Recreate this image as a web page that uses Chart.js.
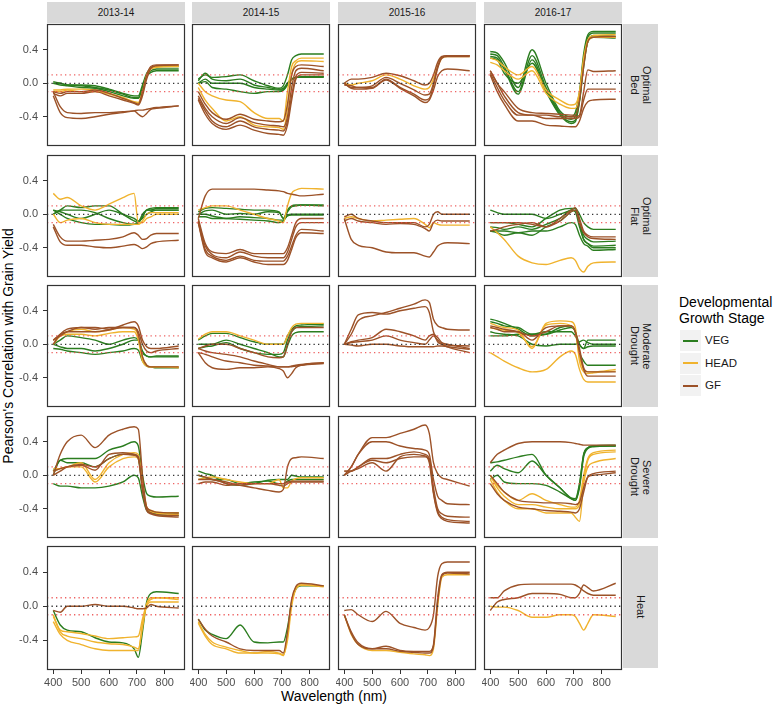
<!DOCTYPE html>
<html>
<head>
<meta charset="utf-8">
<script src="https://cdn.jsdelivr.net/npm/chart.js@4.4.0/dist/chart.umd.min.js"></script>
<style>
  body { margin: 0; background: #fff; font-family: 'Liberation Sans', Arial, sans-serif; }
  #wrap { position: relative; width: 777px; height: 706px; overflow: hidden; background: #fff; }
  canvas { position: absolute; }
  .strip { position: absolute; background: #d9d9d9; color: #1a1a1a; font-size: 10px;
           display: flex; align-items: center; justify-content: center; }
  .strip.side { writing-mode: vertical-rl; text-align: center; line-height: 12px; font-size: 11px; }
  .title { position: absolute; color: #000; font-size: 14px; white-space: nowrap; }
  .lkey { position: absolute; left: 680px; width: 21px; height: 21px; background: #f2f2f2; }
  .lkey span { position: absolute; left: 3px; right: 3px; top: 9.5px; height: 2px; }
  .llab { position: absolute; left: 705px; font-size: 11.5px; color: #1a1a1a; line-height: 21px; }
</style>
</head>
<body>
<div id="wrap">
  <div class="title" style="left:8px;top:346px;transform:translate(-50%,-50%) rotate(-90deg);">Pearson's Correlation with Grain Yield</div>
  <div class="title" style="left:334px;top:696px;transform:translate(-50%,-50%);">Wavelength (nm)</div>
  <div class="title" style="left:679px;top:294px;line-height:16px;">Developmental<br>Growth Stage</div>
</div>
<script>
// shared x grid (nm) and axis ticks
const wavelengths = [400, 425, 450, 500, 550, 600, 650, 690, 705, 720, 735, 750, 770, 850];
const xTicks = [400, 500, 600, 700, 800];
const yTicks = [-0.4, 0, 0.4];
const refLines = [0.1, 0, -0.1];

const seasons = ['2013-14', '2014-15', '2015-16', '2016-17'];
const treatments = ['Optimal<br>Bed', 'Optimal<br>Flat', 'Moderate<br>Drought', 'Severe<br>Drought', 'Heat'];
const stages = ['VEG', 'HEAD', 'GF'];

// ---- Optimal Bed ----
const bed1314Veg = [
  [0.0, 0.0, -0.02, -0.02, -0.03, -0.07, -0.12, -0.15, -0.15, -0.02, 0.12, 0.18, 0.2, 0.2],
  [0.02, 0.0, -0.02, -0.03, -0.05, -0.08, -0.13, -0.17, -0.17, -0.05, 0.1, 0.15, 0.17, 0.17],
  [0.0, -0.02, -0.03, -0.05, -0.06, -0.1, -0.15, -0.18, -0.18, -0.07, 0.08, 0.13, 0.15, 0.15]];
const bed1314Head = [
  [-0.08, -0.08, -0.07, -0.07, -0.08, -0.12, -0.17, -0.22, -0.23, -0.1, 0.1, 0.18, 0.2, 0.21],
  [-0.1, -0.1, -0.08, -0.1, -0.1, -0.13, -0.18, -0.23, -0.25, -0.12, 0.08, 0.17, 0.19, 0.2]];
const bed1314Gf = [
  [-0.1, -0.12, -0.1, -0.1, -0.08, -0.12, -0.18, -0.23, -0.25, -0.1, 0.1, 0.2, 0.22, 0.22],
  [-0.12, -0.15, -0.12, -0.12, -0.1, -0.15, -0.2, -0.24, -0.26, -0.15, 0.05, 0.18, 0.21, 0.22],
  [-0.1, -0.28, -0.35, -0.36, -0.35, -0.35, -0.34, -0.33, -0.37, -0.4, -0.36, -0.31, -0.3, -0.27],
  [-0.15, -0.35, -0.41, -0.42, -0.4, -0.37, -0.35, -0.33, -0.32, -0.32, -0.31, -0.3, -0.29, -0.27]];

const bed1415Veg = [
  [0.05, 0.1, 0.07, 0.08, 0.1, 0.03, -0.03, -0.06, -0.03, 0.1, 0.28, 0.33, 0.35, 0.35],
  [0.03, 0.12, 0.05, 0.03, 0.05, -0.02, -0.05, -0.07, -0.06, 0.0, 0.05, 0.07, 0.07, 0.07],
  [0.0, 0.05, 0.0, 0.0, 0.0, -0.05, -0.07, -0.08, -0.08, -0.02, 0.05, 0.07, 0.08, 0.08],
  [0.0, 0.02, -0.05, -0.07, -0.1, -0.12, -0.1, -0.1, -0.08, 0.0, 0.05, 0.07, 0.07, 0.08]];
const bed1415Head = [
  [0.0, -0.1, -0.15, -0.2, -0.22, -0.35, -0.42, -0.42, -0.45, -0.1, 0.2, 0.27, 0.3, 0.3],
  [-0.05, -0.2, -0.3, -0.45, -0.4, -0.5, -0.52, -0.53, -0.55, -0.3, 0.1, 0.24, 0.27, 0.26]];
const bed1415Gf = [
  [-0.1, -0.25, -0.35, -0.43, -0.37, -0.43, -0.45, -0.46, -0.45, -0.25, 0.1, 0.2, 0.22, 0.2],
  [-0.15, -0.3, -0.4, -0.48, -0.41, -0.47, -0.5, -0.51, -0.52, -0.4, -0.05, 0.15, 0.18, 0.15],
  [-0.18, -0.33, -0.45, -0.52, -0.45, -0.52, -0.55, -0.56, -0.57, -0.45, -0.15, 0.08, 0.13, 0.12],
  [-0.2, -0.37, -0.48, -0.55, -0.5, -0.56, -0.6, -0.61, -0.62, -0.5, -0.2, 0.05, 0.1, 0.1]];

const bed1516Veg = [];
const bed1516Head = [
  [0.0, -0.02, 0.0, 0.03, 0.1, 0.05, -0.03, -0.07, -0.05, 0.05, 0.2, 0.3, 0.32, 0.32]];
const bed1516Gf = [
  [0.0, 0.05, 0.05, 0.07, 0.12, 0.09, 0.03, -0.02, 0.0, 0.1, 0.25, 0.32, 0.33, 0.33],
  [-0.02, -0.03, -0.05, -0.03, 0.07, 0.0, -0.08, -0.14, -0.13, 0.0, 0.2, 0.31, 0.33, 0.33],
  [0.0, -0.05, -0.05, -0.05, 0.05, -0.05, -0.13, -0.2, -0.18, -0.03, 0.18, 0.3, 0.32, 0.32],
  [0.0, -0.06, -0.07, -0.06, 0.04, -0.06, -0.15, -0.23, -0.2, -0.08, 0.08, 0.15, 0.17, 0.15]];

const bed1617Veg = [
  [0.38, 0.36, 0.25, -0.05, 0.4, 0.0, -0.33, -0.4, -0.35, -0.1, 0.35, 0.58, 0.62, 0.62],
  [0.35, 0.33, 0.2, -0.1, 0.33, -0.05, -0.35, -0.43, -0.4, -0.15, 0.3, 0.55, 0.6, 0.6],
  [0.32, 0.3, 0.17, -0.13, 0.28, -0.08, -0.37, -0.46, -0.44, -0.2, 0.25, 0.5, 0.57, 0.56],
  [0.3, 0.28, 0.12, 0.0, 0.24, -0.1, -0.38, -0.48, -0.46, -0.22, 0.2, 0.5, 0.55, 0.54]];
const bed1617Head = [
  [0.3, 0.27, 0.2, 0.1, 0.2, -0.08, -0.2, -0.26, -0.25, -0.1, 0.3, 0.52, 0.57, 0.58],
  [0.25, 0.22, 0.15, 0.05, 0.15, -0.12, -0.25, -0.3, -0.3, -0.15, 0.25, 0.5, 0.55, 0.55]];
const bed1617Gf = [
  [0.15, 0.0, -0.1, -0.3, -0.35, -0.36, -0.37, -0.38, -0.38, -0.2, 0.2, 0.5, 0.55, 0.56],
  [0.15, 0.0, -0.15, -0.35, -0.38, -0.38, -0.4, -0.4, -0.4, -0.38, -0.1, 0.16, 0.14, 0.15],
  [0.12, -0.05, -0.2, -0.38, -0.38, -0.42, -0.42, -0.42, -0.42, -0.4, -0.2, -0.07, -0.07, -0.07],
  [0.1, -0.1, -0.25, -0.45, -0.45, -0.5, -0.51, -0.52, -0.52, -0.45, -0.3, -0.22, -0.2, -0.19]];

// ---- Optimal Flat ----
const flat1314Veg = [
  [0.0, 0.05, 0.1, 0.08, 0.1, 0.1, 0.0, -0.08, -0.1, -0.03, 0.05, 0.05, 0.07, 0.07],
  [0.05, 0.03, 0.0, -0.05, 0.0, 0.05, 0.0, -0.05, -0.08, -0.05, 0.0, 0.03, 0.05, 0.05],
  [0.05, 0.0, -0.05, -0.1, -0.12, -0.12, -0.13, -0.12, -0.1, -0.03, 0.05, 0.05, 0.05, 0.05],
  [0.0, 0.05, 0.05, 0.05, 0.02, -0.05, -0.1, -0.12, -0.1, 0.0, 0.05, 0.07, 0.08, 0.08]];
const flat1314Head = [
  [0.25, 0.18, 0.2, 0.1, 0.05, 0.12, 0.2, 0.25, -0.1, -0.1, -0.05, -0.03, 0.0, 0.0],
  [0.0, -0.1, -0.07, -0.05, -0.1, -0.12, -0.12, -0.12, -0.12, -0.08, 0.0, 0.02, 0.02, 0.02]];
const flat1314Gf = [
  [-0.12, -0.27, -0.32, -0.32, -0.31, -0.3, -0.27, -0.22, -0.25, -0.3, -0.29, -0.25, -0.23, -0.23],
  [-0.15, -0.33, -0.37, -0.37, -0.39, -0.4, -0.38, -0.36, -0.38, -0.41, -0.39, -0.35, -0.33, -0.31]];

const flat1415Veg = [
  [0.03, 0.07, 0.08, 0.07, 0.06, 0.05, 0.05, 0.03, -0.05, 0.05, 0.1, 0.11, 0.11, 0.11],
  [0.0, 0.04, 0.05, 0.0, 0.01, 0.0, 0.03, 0.02, -0.05, 0.03, 0.09, 0.1, 0.11, 0.1],
  [0.0, 0.0, -0.02, -0.05, -0.06, -0.07, -0.08, -0.1, -0.08, -0.01, 0.0, 0.0, 0.0, 0.0],
  [-0.03, -0.03, -0.05, -0.05, -0.03, -0.04, -0.05, -0.07, -0.07, -0.02, -0.01, -0.01, -0.01, -0.01]];
const flat1415Head = [
  [0.05, 0.08, 0.1, 0.1, 0.05, 0.0, -0.05, -0.08, -0.1, 0.1, 0.25, 0.29, 0.31, 0.3]];
const flat1415Gf = [
  [-0.05, 0.22, 0.3, 0.3, 0.3, 0.3, 0.29, 0.28, 0.27, 0.25, 0.24, 0.23, 0.22, 0.24],
  [-0.05, -0.35, -0.45, -0.47, -0.42, -0.47, -0.47, -0.47, -0.47, -0.4, -0.25, -0.1, -0.05, -0.05],
  [-0.08, -0.38, -0.48, -0.52, -0.45, -0.5, -0.52, -0.52, -0.52, -0.45, -0.3, -0.15, -0.1, -0.1],
  [-0.1, -0.42, -0.5, -0.55, -0.5, -0.55, -0.56, -0.56, -0.56, -0.5, -0.38, -0.25, -0.18, -0.2],
  [-0.1, -0.45, -0.52, -0.57, -0.52, -0.57, -0.6, -0.6, -0.6, -0.55, -0.42, -0.28, -0.22, -0.23]];

const flat1516Veg = [];
const flat1516Head = [
  [-0.05, -0.03, -0.05, -0.08, -0.07, -0.06, -0.05, -0.12, -0.16, -0.1, -0.12, -0.13, -0.13, -0.13]];
const flat1516Gf = [
  [-0.03, 0.0, -0.05, -0.08, -0.1, -0.1, -0.1, -0.15, -0.12, 0.0, 0.03, 0.0, 0.0, 0.0],
  [-0.08, -0.05, -0.08, -0.1, -0.12, -0.11, -0.12, -0.17, -0.2, -0.1, -0.07, -0.08, -0.08, -0.08],
  [-0.05, -0.3, -0.37, -0.4, -0.45, -0.46, -0.46, -0.5, -0.51, -0.45, -0.38, -0.35, -0.34, -0.35]];

const flat1617Veg = [
  [0.05, 0.02, 0.0, 0.0, 0.0, -0.05, 0.0, 0.05, 0.07, 0.0, -0.1, -0.15, -0.18, -0.18],
  [-0.1, -0.1, -0.1, -0.12, -0.15, -0.05, 0.05, 0.07, 0.07, -0.1, -0.25, -0.3, -0.33, -0.32],
  [-0.15, -0.16, -0.18, -0.15, -0.18, -0.12, -0.05, 0.05, 0.03, -0.15, -0.3, -0.35, -0.38, -0.37],
  [-0.2, -0.2, -0.2, -0.22, -0.2, -0.2, -0.15, -0.1, -0.12, -0.25, -0.35, -0.38, -0.43, -0.42],
  [-0.2, -0.22, -0.25, -0.22, -0.25, -0.15, -0.08, 0.03, 0.05, -0.1, -0.3, -0.35, -0.4, -0.4]];
const flat1617Head = [
  [-0.15, -0.22, -0.3, -0.5, -0.58, -0.6, -0.55, -0.52, -0.55, -0.65, -0.69, -0.62, -0.58, -0.57]];
const flat1617Gf = [
  [-0.1, -0.1, -0.1, -0.1, -0.12, -0.15, -0.05, 0.05, 0.08, -0.05, -0.2, -0.25, -0.27, -0.27],
  [-0.2, -0.18, -0.15, -0.12, -0.1, -0.15, -0.08, 0.03, 0.05, -0.1, -0.22, -0.27, -0.29, -0.3]];

// ---- Moderate Drought ----
const mod1314Veg = [
  [0.0, 0.05, 0.1, 0.08, 0.05, 0.0, 0.05, 0.08, 0.05, -0.1, -0.14, -0.15, -0.15, -0.15],
  [0.0, -0.03, -0.05, -0.05, -0.08, -0.05, 0.0, 0.05, 0.05, -0.08, -0.14, -0.15, -0.14, -0.14],
  [-0.05, -0.06, -0.08, -0.1, -0.12, -0.1, -0.08, -0.05, -0.07, -0.2, -0.26, -0.27, -0.28, -0.28]];
const mod1314Head = [
  [0.0, 0.1, 0.15, 0.18, 0.15, 0.17, 0.2, 0.18, 0.1, -0.15, -0.25, -0.27, -0.27, -0.28],
  [0.05, 0.1, 0.12, 0.12, 0.1, 0.13, 0.15, 0.15, 0.05, -0.2, -0.26, -0.27, -0.27, -0.27]];
const mod1314Gf = [
  [0.05, 0.1, 0.15, 0.2, 0.2, 0.18, 0.23, 0.27, 0.22, 0.05, -0.03, -0.05, -0.05, -0.02],
  [0.0, 0.12, 0.18, 0.2, 0.18, 0.2, 0.2, 0.2, 0.15, 0.0, -0.08, -0.1, -0.08, -0.05],
  [0.05, 0.12, 0.15, 0.15, 0.15, 0.17, 0.2, 0.2, 0.12, -0.15, -0.25, -0.27, -0.27, -0.27]];

const mod1415Veg = [
  [0.05, 0.1, 0.13, 0.13, 0.08, 0.03, 0.0, 0.0, 0.0, 0.1, 0.18, 0.22, 0.23, 0.24],
  [0.0, 0.0, 0.0, 0.05, 0.0, -0.05, -0.1, -0.15, -0.15, -0.02, 0.1, 0.14, 0.15, 0.15],
  [-0.05, -0.03, -0.02, 0.02, -0.05, -0.1, -0.12, -0.12, -0.1, 0.05, 0.15, 0.2, 0.21, 0.22]];
const mod1415Head = [
  [0.06, 0.12, 0.15, 0.15, 0.1, 0.05, 0.0, 0.0, 0.0, 0.1, 0.2, 0.24, 0.25, 0.25]];
const mod1415Gf = [
  [-0.05, -0.02, 0.0, 0.0, -0.05, -0.1, -0.15, -0.16, -0.15, 0.0, 0.15, 0.2, 0.2, 0.2],
  [-0.05, -0.08, -0.1, -0.12, -0.15, -0.2, -0.24, -0.27, -0.27, -0.27, -0.26, -0.25, -0.24, -0.22],
  [-0.1, -0.12, -0.15, -0.2, -0.22, -0.25, -0.26, -0.27, -0.27, -0.27, -0.27, -0.26, -0.25, -0.23],
  [-0.1, -0.22, -0.28, -0.3, -0.28, -0.28, -0.27, -0.29, -0.32, -0.4, -0.35, -0.28, -0.25, -0.22]];

const mod1516Veg = [];
const mod1516Head = [];
const mod1516Gf = [
  [0.0, 0.12, 0.28, 0.34, 0.38, 0.43, 0.48, 0.53, 0.5, 0.3, 0.22, 0.2, 0.18, 0.17],
  [0.0, 0.18, 0.35, 0.38, 0.36, 0.4, 0.43, 0.45, 0.38, 0.15, 0.03, 0.0, -0.01, -0.02],
  [0.0, 0.03, 0.05, 0.08, 0.18, 0.15, 0.1, 0.05, 0.1, 0.12, 0.08, 0.02, 0.0, -0.05],
  [0.0, 0.02, 0.03, 0.05, 0.1, 0.05, 0.02, 0.0, 0.05, 0.1, 0.05, 0.0, -0.03, -0.1],
  [0.0, -0.01, -0.02, 0.0, 0.0, -0.02, -0.03, -0.03, -0.03, -0.03, -0.02, -0.02, -0.03, -0.06]];

const mod1617Veg = [
  [0.3, 0.28, 0.25, 0.18, 0.1, 0.12, 0.2, 0.22, 0.15, 0.0, -0.05, 0.05, 0.05, 0.05],
  [0.27, 0.25, 0.22, 0.2, 0.12, 0.12, 0.17, 0.2, 0.15, -0.1, -0.2, -0.25, -0.25, -0.25],
  [0.15, 0.13, 0.12, 0.1, 0.0, -0.02, 0.0, 0.0, 0.0, 0.03, 0.05, 0.02, 0.0, 0.0],
  [0.1, 0.1, 0.1, 0.12, 0.12, 0.15, 0.15, 0.15, 0.1, 0.0, -0.05, -0.03, -0.02, -0.02]];
const mod1617Head = [
  [-0.1, -0.15, -0.2, -0.28, -0.33, -0.3, -0.15, -0.08, -0.12, -0.3, -0.42, -0.45, -0.45, -0.45],
  [0.2, 0.18, 0.17, 0.14, -0.03, 0.23, 0.25, 0.22, 0.15, -0.15, -0.3, -0.33, -0.33, -0.3],
  [0.25, 0.22, 0.2, 0.17, -0.05, 0.25, 0.28, 0.27, 0.2, -0.2, -0.33, -0.35, -0.34, -0.32]];
const mod1617Gf = [
  [0.2, 0.18, 0.15, 0.15, 0.05, 0.2, 0.22, 0.22, 0.15, -0.1, -0.3, -0.38, -0.38, -0.38],
  [0.22, 0.2, 0.18, 0.15, 0.1, 0.15, 0.22, 0.22, 0.15, -0.05, -0.28, -0.33, -0.33, -0.33]];

// ---- Severe Drought ----
const sev1314Veg = [
  [0.05, 0.18, 0.2, 0.2, 0.2, 0.3, 0.35, 0.4, 0.35, 0.0, -0.22, -0.25, -0.26, -0.25],
  [0.0, 0.18, 0.15, 0.15, 0.1, 0.2, 0.25, 0.25, 0.2, -0.15, -0.4, -0.43, -0.45, -0.45],
  [-0.1, -0.13, -0.13, -0.15, -0.15, -0.13, -0.08, 0.0, -0.03, -0.25, -0.42, -0.45, -0.47, -0.48]];
const sev1314Head = [
  [0.08, 0.08, 0.1, 0.15, -0.05, 0.15, 0.25, 0.27, 0.25, -0.1, -0.38, -0.43, -0.45, -0.47],
  [0.05, 0.08, 0.1, 0.1, -0.08, 0.1, 0.2, 0.22, 0.2, -0.1, -0.38, -0.42, -0.44, -0.45]];
const sev1314Gf = [
  [0.0, 0.25, 0.4, 0.48, 0.33, 0.48, 0.55, 0.58, 0.55, 0.0, -0.38, -0.42, -0.44, -0.45],
  [0.05, 0.08, 0.1, 0.12, 0.06, 0.25, 0.27, 0.25, 0.22, -0.15, -0.4, -0.45, -0.47, -0.48],
  [0.0, 0.05, 0.1, 0.13, 0.1, 0.2, 0.25, 0.24, 0.2, -0.18, -0.42, -0.46, -0.48, -0.5]];

const sev1415Veg = [
  [0.05, 0.02, 0.0, -0.1, -0.12, -0.1, -0.06, -0.05, -0.05, -0.05, 0.0, -0.01, -0.02, -0.02],
  [0.0, -0.03, -0.05, -0.05, -0.1, -0.08, -0.07, -0.1, -0.1, -0.07, -0.05, -0.05, -0.05, -0.05]];
const sev1415Head = [
  [-0.05, -0.03, -0.02, -0.05, -0.08, -0.1, -0.1, -0.05, -0.15, -0.15, -0.07, -0.04, -0.03, -0.03]];
const sev1415Gf = [
  [0.0, -0.02, -0.05, -0.08, -0.12, -0.15, -0.18, -0.2, -0.17, 0.1, 0.2, 0.21, 0.22, 0.2],
  [-0.05, -0.05, -0.05, -0.1, -0.12, -0.1, -0.1, -0.12, -0.13, -0.1, -0.08, -0.08, -0.08, -0.08],
  [-0.1, -0.08, -0.08, -0.12, -0.1, -0.1, -0.1, -0.1, -0.1, -0.08, -0.07, -0.07, -0.07, -0.07]];

const sev1516Veg = [];
const sev1516Head = [];
const sev1516Gf = [
  [0.0, 0.1, 0.25, 0.45, 0.45, 0.5, 0.55, 0.6, 0.5, 0.15, 0.02, -0.03, -0.05, -0.13],
  [0.0, 0.1, 0.25, 0.4, 0.4, 0.35, 0.32, 0.3, 0.25, -0.05, -0.25, -0.3, -0.34, -0.35],
  [0.05, 0.05, 0.1, 0.2, 0.2, 0.25, 0.28, 0.25, 0.2, -0.15, -0.4, -0.46, -0.49, -0.5],
  [0.0, 0.05, 0.08, 0.15, 0.05, 0.22, 0.25, 0.23, 0.18, -0.2, -0.43, -0.5, -0.53, -0.55],
  [0.05, 0.05, 0.1, 0.18, 0.15, 0.2, 0.22, 0.22, 0.15, -0.22, -0.45, -0.52, -0.55, -0.57]];

const sev1617Veg = [
  [0.15, 0.16, 0.18, 0.22, 0.25, 0.0, -0.15, -0.27, -0.28, -0.1, 0.25, 0.33, 0.35, 0.36],
  [0.05, 0.12, 0.08, 0.03, 0.17, 0.0, -0.15, -0.28, -0.3, -0.12, 0.25, 0.33, 0.35, 0.35],
  [-0.05, 0.0, -0.08, -0.1, -0.1, -0.12, -0.2, -0.28, -0.3, -0.15, 0.22, 0.32, 0.34, 0.35]];
const sev1617Head = [
  [0.0, -0.12, -0.2, -0.3, -0.22, -0.3, -0.35, -0.38, -0.38, -0.3, 0.0, 0.2, 0.27, 0.3],
  [-0.05, -0.2, -0.3, -0.4, -0.4, -0.45, -0.45, -0.45, -0.5, -0.55, -0.1, 0.1, 0.15, 0.2],
  [0.0, -0.15, -0.25, -0.35, -0.35, -0.38, -0.4, -0.4, -0.4, -0.35, -0.05, 0.18, 0.25, 0.28]];
const sev1617Gf = [
  [0.15, 0.25, 0.3, 0.38, 0.4, 0.4, 0.4, 0.39, 0.38, 0.37, 0.36, 0.36, 0.36, 0.36],
  [0.0, -0.1, -0.2, -0.3, -0.32, -0.33, -0.33, -0.34, -0.35, -0.32, -0.15, -0.02, 0.0, 0.03],
  [-0.1, -0.22, -0.3, -0.38, -0.4, -0.42, -0.43, -0.44, -0.45, -0.4, -0.2, -0.02, 0.02, 0.05]];

// ---- Heat ----
const heat1314Veg = [
  [-0.05, -0.22, -0.28, -0.3, -0.37, -0.42, -0.43, -0.5, -0.6, -0.3, 0.05, 0.15, 0.17, 0.15]];
const heat1314Head = [
  [-0.1, -0.3, -0.35, -0.38, -0.42, -0.44, -0.45, -0.48, -0.5, -0.25, 0.02, 0.08, 0.1, 0.1],
  [-0.18, -0.33, -0.4, -0.45, -0.5, -0.52, -0.52, -0.52, -0.52, -0.2, 0.0, 0.05, 0.05, 0.05],
  [-0.12, -0.28, -0.3, -0.32, -0.35, -0.38, -0.37, -0.36, -0.35, -0.15, 0.03, 0.1, 0.1, 0.08]];
const heat1314Gf = [
  [-0.05, -0.07, 0.0, 0.0, 0.02, 0.0, 0.0, -0.02, -0.03, -0.03, -0.02, 0.02, 0.0, -0.02]];

const heat1415Veg = [
  [-0.15, -0.28, -0.33, -0.38, -0.22, -0.42, -0.43, -0.42, -0.42, -0.25, 0.05, 0.2, 0.24, 0.24]];
const heat1415Head = [
  [-0.18, -0.33, -0.42, -0.48, -0.52, -0.55, -0.53, -0.55, -0.57, -0.4, 0.0, 0.2, 0.25, 0.24],
  [-0.2, -0.35, -0.45, -0.5, -0.55, -0.55, -0.55, -0.56, -0.58, -0.35, 0.05, 0.22, 0.25, 0.23]];
const heat1415Gf = [
  [-0.15, -0.27, -0.35, -0.42, -0.5, -0.52, -0.52, -0.52, -0.55, -0.3, 0.08, 0.23, 0.27, 0.24]];

const heat1516Veg = [];
const heat1516Head = [
  [-0.1, -0.33, -0.45, -0.52, -0.52, -0.54, -0.56, -0.57, -0.58, -0.5, 0.0, 0.34, 0.37, 0.37]];
const heat1516Gf = [
  [-0.05, -0.04, -0.1, -0.18, -0.06, -0.2, -0.25, -0.28, -0.25, -0.1, 0.35, 0.5, 0.52, 0.52],
  [-0.1, -0.3, -0.43, -0.5, -0.47, -0.52, -0.53, -0.53, -0.53, -0.45, 0.1, 0.37, 0.4, 0.4],
  [-0.1, -0.32, -0.45, -0.5, -0.5, -0.53, -0.54, -0.55, -0.55, -0.47, 0.05, 0.36, 0.39, 0.38]];

const heat1617Veg = [];
const heat1617Head = [
  [0.0, -0.01, -0.01, -0.05, -0.13, -0.13, -0.1, -0.1, -0.12, -0.2, -0.28, -0.2, -0.1, -0.12]];
const heat1617Gf = [
  [0.1, 0.1, 0.18, 0.25, 0.26, 0.26, 0.26, 0.26, 0.25, 0.22, 0.18, 0.15, 0.13, 0.13],
  [-0.05, 0.05, 0.08, 0.1, 0.15, 0.15, 0.14, 0.1, 0.1, 0.15, 0.25, 0.22, 0.18, 0.27]];

// panel grid: rows = treatments, cols = seasons, each [VEG, HEAD, GF]
const panelData = [
  [[bed1314Veg, bed1314Head, bed1314Gf], [bed1415Veg, bed1415Head, bed1415Gf], [bed1516Veg, bed1516Head, bed1516Gf], [bed1617Veg, bed1617Head, bed1617Gf]],
  [[flat1314Veg, flat1314Head, flat1314Gf], [flat1415Veg, flat1415Head, flat1415Gf], [flat1516Veg, flat1516Head, flat1516Gf], [flat1617Veg, flat1617Head, flat1617Gf]],
  [[mod1314Veg, mod1314Head, mod1314Gf], [mod1415Veg, mod1415Head, mod1415Gf], [mod1516Veg, mod1516Head, mod1516Gf], [mod1617Veg, mod1617Head, mod1617Gf]],
  [[sev1314Veg, sev1314Head, sev1314Gf], [sev1415Veg, sev1415Head, sev1415Gf], [sev1516Veg, sev1516Head, sev1516Gf], [sev1617Veg, sev1617Head, sev1617Gf]],
  [[heat1314Veg, heat1314Head, heat1314Gf], [heat1415Veg, heat1415Head, heat1415Gf], [heat1516Veg, heat1516Head, heat1516Gf], [heat1617Veg, heat1617Head, heat1617Gf]]
];

// look
const stageColors = ['#2b7d1f', '#f0b32e', '#9c5228'];
const refColors = ['rgba(235,70,70,0.85)', '#333333', 'rgba(235,70,70,0.85)'];
const xMin = 377.5, xMax = 872.5, yMin = -0.749, yMax = 0.708;
const colLeft = [47, 192, 338, 484];
const rowTop = [24, 155, 285, 416, 546];
const panelW = 138, panelH = 122;

Chart.defaults.font.family = "'Liberation Sans', Arial, sans-serif";
Chart.defaults.font.size = 11;
Chart.defaults.color = '#4d4d4d';

const framePlugin = {
  id: 'frame',
  afterDraw(chart) {
    const a = chart.chartArea, ctx = chart.ctx;
    ctx.save();
    ctx.strokeStyle = '#333';
    ctx.lineWidth = 1.2;
    ctx.strokeRect(a.left + 0.5, a.top + 0.5, a.right - a.left - 1, a.bottom - a.top - 1);
    ctx.restore();
  }
};

const wrap = document.getElementById('wrap');

function addStrip(html, left, top, w, h, side) {
  const d = document.createElement('div');
  d.className = side ? 'strip side' : 'strip';
  d.style.left = left + 'px'; d.style.top = top + 'px';
  d.style.width = w + 'px'; d.style.height = h + 'px';
  d.innerHTML = html;
  wrap.appendChild(d);
}

function makePanel(r, c) {
  const left = colLeft[c], top = rowTop[r];
  const firstCol = c === 0, lastRow = r === rowTop.length - 1;
  const cx = firstCol ? 0 : left - 2;
  const cv = document.createElement('canvas');
  cv.width = left + panelW + 2 - cx;
  cv.height = panelH + 4 + (lastRow ? 18 : 0);
  cv.style.left = cx + 'px';
  cv.style.top = (top - 2) + 'px';
  wrap.appendChild(cv);

  const datasets = refLines.map((v, i) => ({
    data: [{ x: xMin, y: v }, { x: xMax, y: v }],
    borderColor: refColors[i], borderWidth: 1.3, borderDash: [1.3, 3.2],
    cubicInterpolationMode: 'default', order: 0
  }));
  // VEG drawn first (under), GF last (on top)
  panelData[r][c].forEach((lines, s) => {
    lines.forEach(vals => {
      datasets.push({
        label: stages[s],
        data: vals.map((v, i) => ({ x: wavelengths[i], y: v })),
        borderColor: stageColors[s], borderWidth: 1.4,
        order: 3 - s
      });
    });
  });

  new Chart(cv, {
    type: 'line',
    data: { datasets },
    options: {
      responsive: false, animation: false, events: [],
      devicePixelRatio: 1,
      layout: { padding: { left: firstCol ? 0 : 2, right: 2, top: 2, bottom: lastRow ? 0 : 2 } },
      elements: { point: { radius: 0 }, line: { cubicInterpolationMode: 'monotone' } },
      plugins: { legend: { display: false }, tooltip: { enabled: false } },
      scales: {
        x: {
          type: 'linear', min: xMin, max: xMax, display: lastRow,
          afterBuildTicks: ax => { ax.ticks = xTicks.map(v => ({ value: v })); },
          afterFit: ax => {
            ax.height = lastRow ? 18 : 0;
            ax.paddingLeft = 0; ax.paddingRight = 0;
          },
          ticks: { autoSkip: false, maxRotation: 0, padding: 2, color: '#4d4d4d', font: { size: 11 } },
          grid: { drawOnChartArea: false, drawTicks: true, tickLength: 4, color: '#333' },
          border: { display: false }
        },
        y: {
          type: 'linear', min: yMin, max: yMax, display: firstCol,
          afterBuildTicks: ax => { ax.ticks = yTicks.map(v => ({ value: v })); },
          afterFit: ax => {
            ax.width = firstCol ? left : 0;
            ax.paddingTop = 0; ax.paddingBottom = 0;
          },
          ticks: { padding: 5, color: '#4d4d4d', font: { size: 11 }, callback: v => Number(v).toFixed(1) },
          grid: { drawOnChartArea: false, drawTicks: true, tickLength: 4, color: '#333' },
          border: { display: false }
        }
      }
    },
    plugins: [framePlugin]
  });
}

seasons.forEach((s, c) => addStrip(s, colLeft[c], 2, panelW, 21, false));
treatments.forEach((t, r) => addStrip(t, 623, rowTop[r], 35, panelH, true));
for (let r = 0; r < treatments.length; r++) {
  for (let c = 0; c < seasons.length; c++) makePanel(r, c);
}

// legend
const keyTops = [330, 352.5, 375];
stages.forEach((s, i) => {
  const k = document.createElement('div');
  k.className = 'lkey'; k.style.top = keyTops[i] + 'px';
  k.innerHTML = '<span style="background:' + stageColors[i] + '"></span>';
  wrap.appendChild(k);
  const l = document.createElement('div');
  l.className = 'llab'; l.style.top = keyTops[i] + 'px';
  l.textContent = s;
  wrap.appendChild(l);
});
</script>
</body>
</html>
